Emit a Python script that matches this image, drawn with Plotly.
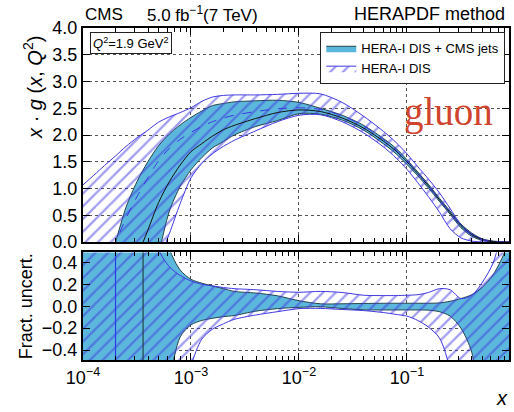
import plotly.graph_objects as go

# ---------------- data ----------------
x_vals = [1.0e-4, 1.26e-4, 1.58e-4, 2.0e-4, 2.51e-4, 3.16e-4, 3.98e-4, 5.01e-4, 6.31e-4, 7.94e-4,
          1.0e-3, 1.26e-3, 1.58e-3, 2.0e-3, 2.51e-3, 3.98e-3, 6.31e-3, 1.0e-2, 1.58e-2, 2.51e-2,
          3.98e-2, 6.31e-2, 7.94e-2, 0.1, 0.126, 0.158, 0.2, 0.251, 0.316, 0.398, 0.501, 0.631,
          0.794, 0.891]

# top panel: x*g(x,Q2)
jets_up = [-2.0, -1.35, -0.68, 0.0, 0.66, 1.13, 1.50, 1.80, 2.02, 2.19, 2.33, 2.45, 2.55, 2.59, 2.62,
           2.64, 2.65, 2.61, 2.50, 2.37, 2.18, 1.91, 1.75, 1.54, 1.31, 1.08, 0.82, 0.58, 0.34, 0.17,
           0.06, 0.02, 0.005, 0.0]
jets_lo = [-3.0, -3.0, -3.0, -3.0, -2.9, -2.0, -1.1, -0.23, 0.58, 1.04, 1.35, 1.58, 1.76, 1.88, 2.00,
           2.16, 2.27, 2.40, 2.39, 2.28, 2.09, 1.81, 1.65, 1.45, 1.24, 1.01, 0.76, 0.52, 0.27, 0.11,
           0.03, 0.0, -0.01, -0.01]
jets_c = [-2.8, -2.3, -1.8, -1.3, -0.8, -0.28, 0.22, 0.74, 1.13, 1.44, 1.69, 1.84, 1.98, 2.10, 2.18,
          2.31, 2.42, 2.47, 2.44, 2.32, 2.13, 1.86, 1.70, 1.50, 1.28, 1.05, 0.79, 0.55, 0.31, 0.14,
          0.045, 0.01, 0.0, 0.0]
dis_up = [1.07, 1.25, 1.43, 1.61, 1.79, 1.95, 2.09, 2.24, 2.34, 2.42, 2.51, 2.63, 2.71, 2.74, 2.75,
          2.75, 2.76, 2.78, 2.77, 2.61, 2.35, 2.04, 1.86, 1.65, 1.41, 1.18, 0.92, 0.63, 0.33, 0.155,
          0.055, 0.01, 0.0, 0.0]
dis_lo = [-4.0, -3.5, -3.0, -2.4, -1.9, -1.4, -0.9, -0.35, 0.16, 0.72, 1.20, 1.47, 1.65, 1.79, 1.90,
          2.08, 2.25, 2.37, 2.38, 2.25, 2.04, 1.75, 1.57, 1.36, 1.11, 0.85, 0.56, 0.25, 0.08, 0.02,
          0.0, 0.0, 0.0, 0.0]
dis_c = [-1.35, -0.9, -0.45, 0.0, 0.45, 0.85, 1.2, 1.52, 1.75, 1.92, 2.05, 2.16, 2.25, 2.32, 2.37,
         2.44, 2.49, 2.51, 2.48, 2.36, 2.17, 1.89, 1.72, 1.52, 1.29, 1.05, 0.79, 0.54, 0.30, 0.13,
         0.04, 0.01, 0.0, 0.0]

# bottom panel: fractional uncertainties
frac_jets_up = [3.0, 3.0, 3.0, 3.0, 3.0, 3.0, 2.0, 0.9, 0.52, 0.33, 0.245, 0.21, 0.185, 0.16, 0.135,
                0.12, 0.095, 0.05, 0.022, 0.022, 0.025, 0.027, 0.027, 0.027, 0.027, 0.027, 0.03,
                0.045, 0.07, 0.105, 0.175, 0.29, 0.48, 0.62]
frac_jets_lo = [-3.0, -3.0, -3.0, -3.0, -3.0, -3.0, -3.0, -1.5, -0.7, -0.28, -0.17, -0.13, -0.11,
                -0.095, -0.085, -0.045, -0.022, -0.01, -0.005, -0.02, -0.033, -0.034, -0.034,
                -0.034, -0.034, -0.036, -0.05, -0.09, -0.2, -0.42, -1.2, -3.0, -3.0, -3.0]
frac_dis_up = [3.0, 3.0, 3.0, 3.0, 3.0, 3.0, 1.2, 0.52, 0.36, 0.28, 0.23, 0.20, 0.185, 0.17, 0.16,
               0.15, 0.135, 0.127, 0.135, 0.125, 0.10, 0.097, 0.097, 0.10, 0.105, 0.125, 0.16,
               0.15, 0.07, 0.10, 0.22, 0.40, 0.8, 1.2]
frac_dis_lo = [-3.0, -3.0, -3.0, -3.0, -3.0, -3.0, -3.0, -3.0, -3.0, -1.2, -0.55, -0.30, -0.21,
               -0.16, -0.12, -0.08, -0.05, -0.022, -0.02, -0.03, -0.04, -0.06, -0.075, -0.09,
               -0.13, -0.19, -0.29, -0.6, -3.0, -3.0, -3.0, -3.0, -3.0, -3.0]

dis_zero_x = 2.0e-4    # DIS central crosses zero
jets_zero_x = 3.6e-4   # jets central crosses zero

x_tick_vals = [1e-4, 1e-3, 1e-2, 1e-1]
x_tick_text = ["10<sup>\u22124</sup>", "10<sup>\u22123</sup>", "10<sup>\u22122</sup>", "10<sup>\u22121</sup>"]
x_minor_vals = [2e-4, 3e-4, 4e-4, 5e-4, 6e-4, 7e-4, 8e-4, 9e-4,
                2e-3, 3e-3, 4e-3, 5e-3, 6e-3, 7e-3, 8e-3, 9e-3,
                2e-2, 3e-2, 4e-2, 5e-2, 6e-2, 7e-2, 8e-2, 9e-2,
                0.2, 0.3, 0.4, 0.5, 0.6, 0.7, 0.8]
top_y_ticks = [0.0, 0.5, 1.0, 1.5, 2.0, 2.5, 3.0, 3.5, 4.0]
bot_y_ticks = [-0.4, -0.2, 0.0, 0.2, 0.4]
bot_y_text = ["\u22120.4", "\u22120.2", "0.0", "0.2", "0.4"]

# ---------------- styles ----------------
JETS_FILL = "#5cb7dc"
JETS_EDGE = "#22444a"
DIS_COL = "#3f36e0"
FONT = "Liberation Sans"
SPL = dict(shape="spline", smoothing=0.8)

fig = go.Figure()

def band(xs, lo, hi, xa, ya, kind, name=None, legend=False, rank=None):
    if kind == "jets":
        fig.add_trace(go.Scatter(x=xs, y=lo, mode="lines", xaxis=xa, yaxis=ya,
                                 line=dict(color=JETS_EDGE, width=1, **SPL),
                                 showlegend=False, hoverinfo="skip"))
        fig.add_trace(go.Scatter(x=xs, y=hi, mode="lines", xaxis=xa, yaxis=ya, fill="tonexty",
                                 fillcolor=JETS_FILL, line=dict(color=JETS_EDGE, width=1, **SPL),
                                 name=name, showlegend=legend, legendrank=rank or 1000,
                                 hoverinfo="skip"))
    else:
        fig.add_trace(go.Scatter(x=xs, y=lo, mode="lines", xaxis=xa, yaxis=ya,
                                 line=dict(color=DIS_COL, width=1, **SPL),
                                 showlegend=False, hoverinfo="skip"))
        fig.add_trace(go.Scatter(x=xs, y=hi, mode="lines", xaxis=xa, yaxis=ya, fill="tonexty",
                                 fillcolor="rgba(0,0,0,0)",
                                 fillpattern=dict(shape="/", fgcolor=DIS_COL,
                                                  bgcolor="rgba(0,0,0,0)", size=9, solidity=0.25),
                                 line=dict(color=DIS_COL, width=1, **SPL),
                                 name=name, showlegend=legend, legendrank=rank or 1000,
                                 hoverinfo="skip"))

# top panel
band(x_vals, jets_lo, jets_up, "x", "y", "jets", "HERA-I DIS + CMS jets", True, 1)
band(x_vals, dis_lo, dis_up, "x", "y", "dis", "HERA-I DIS", True, 2)
fig.add_trace(go.Scatter(x=x_vals, y=jets_c, mode="lines", xaxis="x", yaxis="y",
                         line=dict(color="#111111", width=1, **SPL), showlegend=False))
fig.add_trace(go.Scatter(x=x_vals, y=dis_c, mode="lines", xaxis="x", yaxis="y",
                         line=dict(color=DIS_COL, width=1, dash="dash", **SPL), showlegend=False))

# bottom panel
band(x_vals, frac_jets_lo, frac_jets_up, "x2", "y2", "jets")
band(x_vals, frac_dis_lo, frac_dis_up, "x2", "y2", "dis")
fig.add_trace(go.Scatter(x=[dis_zero_x, dis_zero_x], y=[-1, 1], mode="lines", xaxis="x2", yaxis="y2",
                         line=dict(color="#2a3bea", width=1.2), showlegend=False))
fig.add_trace(go.Scatter(x=[jets_zero_x, jets_zero_x], y=[-1, 1], mode="lines", xaxis="x2", yaxis="y2",
                         line=dict(color="#22444a", width=1.2), showlegend=False))

XRANGE = [-4, -0.055]
axis_common = dict(showline=True, linecolor="black", linewidth=2, mirror="allticks",
                   ticks="inside", ticklen=7, tickwidth=1, tickcolor="black",
                   showgrid=True, gridcolor="#555555", griddash="dot", gridwidth=1,
                   zeroline=False, tickfont=dict(family=FONT, size=18, color="black"))
minor_x = dict(tickmode="array", tickvals=x_minor_vals, ticks="inside", ticklen=4,
               tickcolor="black", tickwidth=1, showgrid=False)

fig.update_layout(
    width=514, height=412,
    margin=dict(l=83, r=3, t=28, b=52),
    paper_bgcolor="white", plot_bgcolor="white",
    font=dict(family=FONT, color="black"),
    xaxis=dict(type="log", range=XRANGE, domain=[0, 1], anchor="y", tickvals=x_tick_vals,
               showticklabels=False, minor=minor_x, **axis_common),
    yaxis=dict(range=[0, 4], domain=[0.355, 1], anchor="x", tickvals=top_y_ticks,
               ticktext=["%.1f" % v for v in top_y_ticks], **axis_common),
    xaxis2=dict(type="log", range=XRANGE, domain=[0, 1], anchor="y2", tickvals=x_tick_vals,
                ticktext=x_tick_text, minor=minor_x, **axis_common),
    yaxis2=dict(range=[-0.49, 0.49], domain=[0, 0.324], anchor="x2", tickvals=bot_y_ticks,
                ticktext=bot_y_text, **axis_common),
    legend=dict(x=0.557, y=0.987, xanchor="left", yanchor="top", bgcolor="white",
                bordercolor="#222222", borderwidth=1, font=dict(family=FONT, size=13),
                tracegroupgap=0, itemwidth=30, traceorder="normal"),
)

fig.add_annotation(text="CMS", xref="paper", yref="paper", x=0.0, y=1.042, xanchor="left",
                   yanchor="middle", showarrow=False, font=dict(family=FONT, size=17))
fig.add_annotation(text="5.0 fb<sup>\u22121</sup>(7 TeV)", xref="paper", yref="paper", x=0.145,
                   y=1.042, xanchor="left", yanchor="middle", showarrow=False,
                   font=dict(family=FONT, size=17))
fig.add_annotation(text="HERAPDF method", xref="paper", yref="paper", x=0.995, y=1.042,
                   xanchor="right", yanchor="middle", showarrow=False,
                   font=dict(family=FONT, size=18))
fig.add_annotation(text="<i>Q</i><sup>2</sup>=1.9 GeV<sup>2</sup>", xref="paper", yref="paper",
                   x=0.017, y=0.988, xanchor="left", yanchor="top", showarrow=False,
                   bordercolor="#222222", borderwidth=1, borderpad=2, bgcolor="white",
                   font=dict(family=FONT, size=13))
fig.add_annotation(text="gluon", xref="paper", yref="paper", x=0.857, y=0.747, xanchor="center",
                   yanchor="middle", showarrow=False,
                   font=dict(family="Liberation Serif", size=39, color="#d0432c"))
fig.add_annotation(text="<i>x</i> \u00b7 <i>g</i> (<i>x</i>, <i>Q</i><sup>2</sup>)",
                   xref="paper", yref="paper", x=-0.117, y=0.82, xanchor="center",
                   yanchor="middle", textangle=-90, showarrow=False,
                   font=dict(family=FONT, size=20))
fig.add_annotation(text="Fract. uncert.", xref="paper", yref="paper", x=-0.133, y=0.163,
                   xanchor="center", yanchor="middle", textangle=-90, showarrow=False,
                   font=dict(family=FONT, size=18))
fig.add_annotation(text="<i>x</i>", xref="paper", yref="paper", x=1.003, y=-0.115,
                   xanchor="right", yanchor="middle", showarrow=False,
                   font=dict(family=FONT, size=20))

fig.write_html("out.html")
